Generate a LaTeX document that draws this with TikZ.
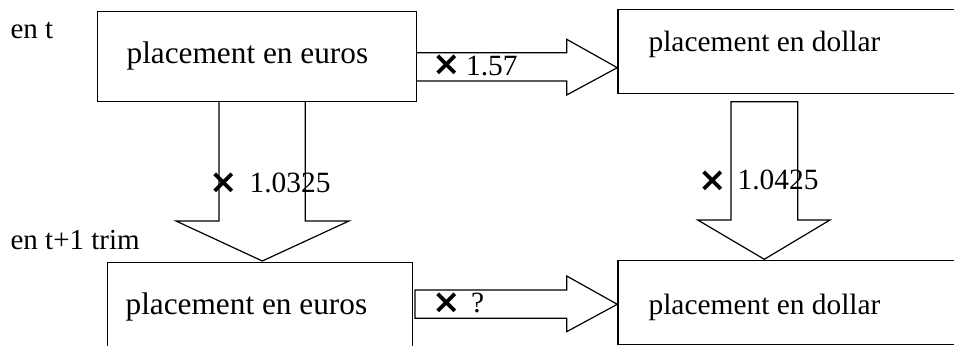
\documentclass[tikz,border=0pt]{standalone}
\usepackage{fontspec}
\setmainfont{Liberation Serif}
\newfontfamily\symfont{DejaVu Sans}
\begin{document}
\begin{tikzpicture}[x=0.5pt,y=-0.5pt,line width=0.6pt,
  box/.style={draw,rectangle,inner sep=0pt,anchor=north west},
  blockarrow/.style={draw,line join=miter},
  boxtxtA/.style={inner sep=0pt,anchor=base west,font=\fontsize{15.65}{18}\selectfont},
  boxtxtB/.style={inner sep=0pt,anchor=base west,font=\fontsize{14.7}{18}\selectfont},
  lbl/.style={inner sep=0pt,anchor=base west,font=\fontsize{14.5}{18}\selectfont},
  num/.style={inner sep=0pt,anchor=base west,font=\fontsize{14.7}{18}\selectfont},
  cross/.style={inner sep=0pt,anchor=center,font=\symfont\bfseries\fontsize{17}{18}\selectfont}]
\clip (0,0) rectangle (954,346);
% boxes
\node[box,minimum width=159.65pt,minimum height=45pt] (eu1) at (96.7,11) {};
\node[box,minimum width=191.35pt,minimum height=42pt] (do1) at (617.3,9.3) {};
\node[box,minimum width=152.65pt,minimum height=59pt] (eu2) at (106.7,262) {};
\node[box,minimum width=191.35pt,minimum height=42.15pt] (do2) at (617.3,260) {};
% box texts
\node[boxtxtA] (teu1) at (126,63.3) {placement en euros};
\node[boxtxtB] (tdo1) at (648,51.7) {placement en dollar};
\node[boxtxtA] (teu2) at (125,315) {placement en euros};
\node[boxtxtB] (tdo2) at (648,315) {placement en dollar};
% row labels
\node[lbl] (lt) at (10,38.3) {en t};
\node[lbl] (lt1) at (10,249.3) {en t+1 trim};
% block arrows
\draw[blockarrow] (416,52.7) -- (566.7,52.7) -- (566.7,39.3) -- (617.3,67.7) -- (566.7,95) -- (566.7,81) -- (416,81);
\draw[blockarrow] (219,101) -- (219,221) -- (176,221) -- (262.3,261) -- (349,221) -- (305.3,221) -- (305.3,101);
\draw[blockarrow] (731,101.7) -- (731,220) -- (697.7,220) -- (764.3,259.3) -- (830,220) -- (797.7,220) -- (797.7,101.7) -- cycle;
\draw[blockarrow] (415,290) -- (566.7,290) -- (566.7,276) -- (617.3,304.3) -- (566.7,331.7) -- (566.7,318.3) -- (415,318.3) -- cycle;
% factor labels
\node[cross] (x1) at (446.3,65) {×};
\node[num] (n1) at (465.5,75.3) {1.57};
\node[cross] (x2) at (224,183.3) {×};
\node[num] (n2) at (249,192.3) {1.0325};
\node[cross] (x3) at (712.5,181) {×};
\node[num] (n3) at (737,190) {1.0425};
\node[cross] (x4) at (446.3,303) {×};
\node[num] (n4) at (470.5,312.7) {?};
\end{tikzpicture}
\end{document}
